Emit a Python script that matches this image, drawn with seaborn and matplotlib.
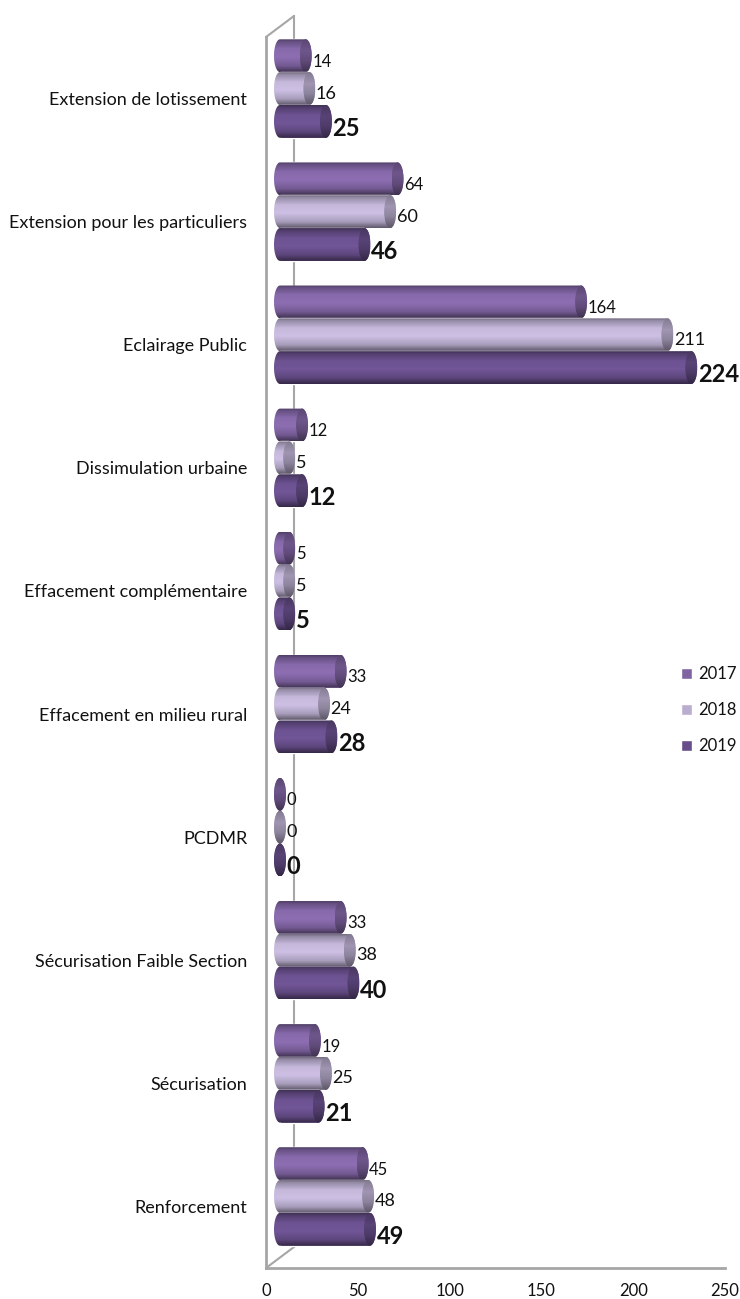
import numpy as np
import pandas as pd
import matplotlib
matplotlib.use("Agg")
import matplotlib.pyplot as plt
import seaborn as sns
from matplotlib.colors import LinearSegmentedColormap, to_rgb
from matplotlib.patches import Polygon, Ellipse
from matplotlib.lines import Line2D

categories = ["Extension de lotissement", "Extension pour les particuliers", "Eclairage Public",
              "Dissimulation urbaine", "Effacement complémentaire", "Effacement en milieu rural",
              "PCDMR", "Sécurisation Faible Section", "Sécurisation", "Renforcement"]
years = ["2017", "2018", "2019"]
v2017 = [14, 64, 164, 12, 5, 33, 0, 33, 19, 45]
v2018 = [16, 60, 211, 5, 5, 24, 0, 38, 25, 48]
v2019 = [25, 46, 224, 12, 5, 28, 0, 40, 21, 49]
palette = {"2017": "#8064A2", "2018": "#BAAECF", "2019": "#674E8A"}
x_ticks = [0, 50, 100, 150, 200, 250]

W, H = 740, 1299
GREY = "#A6A6A6"
PX = 459 / 250            # pixels per value unit
HALF = 6 / PX             # half width of an end ellipse in value units

sns.set_theme(style="white")
plt.rcParams["font.family"] = ["Lato", "DejaVu Sans"]

df = pd.DataFrame({
    "cat": categories * 3,
    "year": sum([[y] * len(categories) for y in years], []),
    "value": v2017 + v2018 + v2019,
})

fig = plt.figure(figsize=(W / 100, H / 100), dpi=100, facecolor="white")


def make_axes(left, top, right, bottom, z):
    a = fig.add_axes([left / W, 1 - bottom / H, (right - left) / W, (bottom - top) / H])
    a.set_zorder(z)
    a.patch.set_visible(False)
    return a


back = make_axes(294, 16, 739, 1247, 0)
front = make_axes(266, 37, 725, 1268, 1)
bars = make_axes(274, 27, 739, 1258, 2)

# Walls of the 3D box
back.set_xlim(0, 250)
back.set_ylim(0, 1)
back.set_xticks([])
back.set_yticks([])
for s in ["top", "right", "bottom"]:
    back.spines[s].set_visible(False)
back.spines["left"].set_color(GREY)
back.spines["left"].set_linewidth(1.5)

front.set_xlim(0, 250)
front.set_ylim(len(categories) - 0.5, -0.5)
front.set_yticks(range(len(categories)))
front.set_yticklabels(categories)
front.set_xticks(x_ticks)
front.tick_params(axis="both", length=0, labelcolor="#111111")
front.tick_params(axis="y", pad=13.5, labelsize=13)
front.tick_params(axis="x", pad=11, labelsize=12)
for s in ["top", "right"]:
    front.spines[s].set_visible(False)
for s in ["left", "bottom"]:
    front.spines[s].set_color(GREY)
    front.spines[s].set_linewidth(2)

for (x0, y0, x1, y1) in [(266, 37, 294, 16), (266, 1268, 294, 1247)]:
    fig.add_artist(Line2D([x0 / W, x1 / W], [1 - y0 / H, 1 - y1 / H],
                          color=GREY, lw=1.5, zorder=0.5))

# Bars through seaborn
sns.barplot(data=df, y="cat", x="value", hue="year", order=categories, hue_order=years,
            palette=palette, width=0.8, gap=0, dodge=True, saturation=1, ax=bars)
leg_handles, leg_labels = bars.get_legend_handles_labels()
bars.get_legend().remove()


def shade(c, f):
    r = np.array(to_rgb(c))
    return tuple(np.clip(r * f, 0, 1))


def body_cmap(c):
    return LinearSegmentedColormap.from_list("b", [
        (0.00, shade(c, 0.62)), (0.07, shade(c, 0.80)), (0.30, shade(c, 1.06)),
        (0.55, shade(c, 1.10)), (0.82, shade(c, 0.90)), (0.95, shade(c, 0.62)), (1.00, shade(c, 0.52))])


def cap_cmap(c):
    return LinearSegmentedColormap.from_list("c", [
        (0.00, shade(c, 0.70)), (0.35, shade(c, 0.86)), (0.65, shade(c, 0.76)), (1.00, shade(c, 0.50))])


grad = np.linspace(0, 1, 64).reshape(-1, 1)
theta = np.linspace(0, np.pi, 40)
label_style = {"2017": dict(fontsize=12, fontweight="normal", dy=-6),
               "2018": dict(fontsize=13, fontweight="normal", dy=-5),
               "2019": dict(fontsize=17, fontweight="bold", dy=-7)}

for k, (year, cont) in enumerate(zip(years, bars.containers)):
    c = palette[year]
    for rect in cont:
        v = rect.get_width()
        y0, h = rect.get_y(), rect.get_height()
        yc = y0 + h / 2
        z = 3 + k
        rect.set_zorder(z)
        # rounded body: left half ellipse + right half ellipse
        xs = np.r_[-HALF * np.sin(theta), v + HALF * np.sin(theta[::-1])]
        ys = np.r_[yc + h / 2 * np.cos(theta), yc + h / 2 * np.cos(theta[::-1])]
        shape = Polygon(np.c_[xs, ys], closed=True, fc="none", ec="none",
                        transform=bars.transData, zorder=z)
        bars.add_patch(shape)
        im = bars.imshow(grad, cmap=body_cmap(c), aspect="auto", vmin=0, vmax=1,
                         extent=[-HALF, v + HALF, y0 + h, y0], zorder=z + 0.1,
                         interpolation="bilinear")
        im.set_clip_path(shape)
        # end cap
        cap = Ellipse((v, yc), 2 * HALF, h, fc="none", ec="none",
                      transform=bars.transData, zorder=z)
        bars.add_patch(cap)
        im2 = bars.imshow(grad, cmap=cap_cmap(c), aspect="auto", vmin=0, vmax=1,
                          extent=[v - HALF, v + HALF, y0 + h, y0], zorder=z + 0.2,
                          interpolation="bilinear")
        im2.set_clip_path(cap)
        st = label_style[year]
        bars.annotate(f"{int(v)}", xy=(v + HALF, yc), xytext=(0.5, st["dy"]),
                      textcoords="offset pixels", ha="left", va="center",
                      fontsize=st["fontsize"], fontweight=st["fontweight"],
                      color="#111111", zorder=10, annotation_clip=False)

bars.set_xlim(-HALF, (739 - 280) / PX)
bars.set_ylim(len(categories) - 0.5, -0.5)
bars.set_axis_off()

fig.legend(leg_handles, leg_labels, loc="center left",
           bbox_to_anchor=(681 / W, 1 - 710 / H), frameon=False, fontsize=12,
           handlelength=0.66, handleheight=0.66, handletextpad=0.4,
           labelspacing=1.2, borderpad=0, borderaxespad=0, labelcolor="#111111")

fig.savefig("out.png", dpi=100, facecolor="white")
